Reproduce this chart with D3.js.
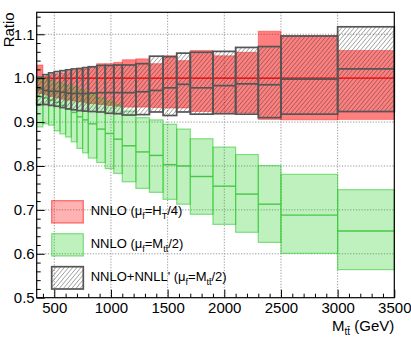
<!DOCTYPE html>
<html>
<head>
<meta charset="utf-8">
<script src="https://cdn.jsdelivr.net/npm/d3@7"></script>
<style>
  body { margin: 0; background: #fff; }
  text { font-family: "Liberation Sans", Arial, sans-serif; fill: #000; }
</style>
</head>
<body>
<div class="chart"></div>
<script>
// bin edges in M_tt (GeV)
var binEdges = [345, 400, 450, 500, 550, 600, 650, 700, 750, 800, 875, 950, 1025, 1100,
  1220, 1340, 1460, 1580, 1700, 1900, 2100, 2300, 2500, 3000, 3500];

// NNLO (mu_f = H_T/4), reference: central = 1
var redLow  = [0.965, 0.962, 0.958, 0.955, 0.952, 0.950, 0.948, 0.946, 0.944, 0.942, 0.940, 0.938,
  0.936, 0.934, 0.934, 0.933, 0.932, 0.932, 0.924, 0.922, 0.921, 0.906, 0.905, 0.906];
var redHigh = [1.030, 1.004, 1.008, 1.010, 1.012, 1.015, 1.018, 1.020, 1.021, 1.025, 1.033, 1.033,
  1.036, 1.042, 1.044, 1.033, 1.051, 1.040, 1.063, 1.051, 1.059, 1.107, 1.097, 1.063];

// NNLO (mu_f = M_tt/2)
var greenCentral = [0.958, 0.955, 0.950, 0.945, 0.938, 0.930, 0.922, 0.912, 0.905, 0.896, 0.884, 0.874,
  0.861, 0.846, 0.832, 0.824, 0.803, 0.800, 0.776, 0.754, 0.736, 0.713, 0.688, 0.652];
var greenLow  = [0.889, 0.896, 0.893, 0.880, 0.873, 0.866, 0.855, 0.840, 0.830, 0.818, 0.808, 0.794,
  0.783, 0.764, 0.749, 0.740, 0.724, 0.713, 0.690, 0.667, 0.649, 0.626, 0.601, 0.564];
var greenHigh = [1.000, 0.998, 0.995, 0.990, 0.987, 0.983, 0.980, 0.975, 0.970, 0.962, 0.955, 0.948,
  0.940, 0.925, 0.910, 0.905, 0.895, 0.884, 0.862, 0.843, 0.826, 0.801, 0.781, 0.746];

// NNLO+NNLL' (mu_f = M_tt/2)
var resumCentral = [0.976, 0.972, 0.970, 0.970, 0.968, 0.966, 0.965, 0.965, 0.965, 0.966, 0.967, 0.967,
  0.967, 0.967, 0.969, 0.972, 0.978, 0.986, 0.978, 0.983, 0.987, 0.985, 0.998, 1.021];
var resumLow  = [0.940, 0.940, 0.938, 0.936, 0.933, 0.930, 0.928, 0.926, 0.925, 0.924, 0.923, 0.920,
  0.919, 0.916, 0.917, 0.923, 0.915, 0.923, 0.918, 0.919, 0.918, 0.910, 0.918, 0.924];
var resumHigh = [1.002, 1.008, 1.012, 1.015, 1.017, 1.019, 1.021, 1.022, 1.024, 1.026, 1.029, 1.029,
  1.030, 1.030, 1.033, 1.050, 1.049, 1.057, 1.059, 1.061, 1.070, 1.072, 1.096, 1.117];

var xTicks = [500, 1000, 1500, 2000, 2500, 3000, 3500];
var yTicks = [0.5, 0.6, 0.7, 0.8, 0.9, 1.0, 1.1];

var legendItems = [
  {key: 'red',   parts: [['NNLO (\u03bc', 0], ['f', 1], ['=H', 0], ['T', 1], ['/4)', 0]]},
  {key: 'green', parts: [['NNLO (\u03bc', 0], ['f', 1], ['=M', 0], ['tt\u0304', 1], ['/2)', 0]]},
  {key: 'hatch', parts: [["NNLO+NNLL'  (\u03bc", 0], ['f', 1], ['=M', 0], ['tt\u0304', 1], ['/2)', 0]]}
];

var W = 411, H = 338;
var margin = {top: 12.3, right: 16.7, bottom: 40.3, left: 36.7},
  width = W - margin.left - margin.right,
  height = H - margin.top - margin.bottom;

var svg = d3.select('.chart').append('svg')
  .attr('width', W)
  .attr('height', H);

var defs = svg.append('defs');
defs.append('pattern')
  .attr('id', 'hatch')
  .attr('patternUnits', 'userSpaceOnUse')
  .attr('width', 3.2)
  .attr('height', 3.2)
  .attr('patternTransform', 'rotate(40)')
  .append('line')
  .attr('x1', 0).attr('y1', 0).attr('x2', 0).attr('y2', 3.2)
  .attr('stroke', '#3a3a3a')
  .attr('stroke-width', 0.9)
  .attr('stroke-opacity', 0.85);

var g = svg.append('g')
  .attr('transform', 'translate(' + margin.left + ',' + margin.top + ')');

var x = d3.scaleLinear().domain([345, 3500]).range([0, width]);
var y = d3.scaleLinear().domain([0.5, 1.15]).range([height, 0]);

var bins = d3.range(binEdges.length - 1).map(function(i) {
  return {
    x0: binEdges[i], x1: binEdges[i + 1],
    rLo: redLow[i], rHi: redHigh[i],
    gC: greenCentral[i], gLo: greenLow[i], gHi: greenHigh[i],
    hC: resumCentral[i], hLo: resumLow[i], hHi: resumHigh[i]
  };
});

// grid
g.append('g').selectAll('line')
  .data(xTicks.filter(function(d) { return d < 3500; }))
  .enter().append('line')
  .attr('x1', function(d) { return x(d); })
  .attr('x2', function(d) { return x(d); })
  .attr('y1', 0).attr('y2', height)
  .attr('stroke', '#8a8a8a').attr('stroke-width', 0.9)
  .attr('stroke-dasharray', '1.2,1.6');
g.append('g').selectAll('line')
  .data(yTicks.filter(function(d) { return d > 0.5; }))
  .enter().append('line')
  .attr('x1', 0).attr('x2', width)
  .attr('y1', function(d) { return y(d); })
  .attr('y2', function(d) { return y(d); })
  .attr('stroke', '#8a8a8a').attr('stroke-width', 0.9)
  .attr('stroke-dasharray', '1.2,1.6');

// red band
g.append('g').selectAll('rect')
  .data(bins).enter().append('rect')
  .attr('x', function(d) { return x(d.x0); })
  .attr('width', function(d) { return x(d.x1) - x(d.x0); })
  .attr('y', function(d) { return y(d.rHi); })
  .attr('height', function(d) { return y(d.rLo) - y(d.rHi); })
  .attr('fill', 'rgba(255,0,0,0.5)')
  .attr('stroke', 'rgba(255,0,0,0.35)')
  .attr('stroke-width', 1);
g.append('g').selectAll('line')
  .data(bins).enter().append('line')
  .attr('x1', function(d) { return x(d.x0); })
  .attr('x2', function(d) { return x(d.x1); })
  .attr('y1', y(1)).attr('y2', y(1))
  .attr('stroke', '#ff0000').attr('stroke-width', 1.3);

// green band
g.append('g').selectAll('rect')
  .data(bins).enter().append('rect')
  .attr('x', function(d) { return x(d.x0); })
  .attr('width', function(d) { return x(d.x1) - x(d.x0); })
  .attr('y', function(d) { return y(d.gHi); })
  .attr('height', function(d) { return y(d.gLo) - y(d.gHi); })
  .attr('fill', 'rgba(0,200,0,0.25)')
  .attr('stroke', 'rgba(40,200,40,0.55)')
  .attr('stroke-width', 1.2);
g.append('g').selectAll('line')
  .data(bins).enter().append('line')
  .attr('x1', function(d) { return x(d.x0); })
  .attr('x2', function(d) { return x(d.x1); })
  .attr('y1', function(d) { return y(d.gC); })
  .attr('y2', function(d) { return y(d.gC); })
  .attr('stroke', '#44c844').attr('stroke-width', 1.4);

// hatched NNLO+NNLL'
g.append('g').selectAll('rect')
  .data(bins).enter().append('rect')
  .attr('x', function(d) { return x(d.x0); })
  .attr('width', function(d) { return x(d.x1) - x(d.x0); })
  .attr('y', function(d) { return y(d.hHi); })
  .attr('height', function(d) { return y(d.hLo) - y(d.hHi); })
  .attr('fill', 'url(#hatch)')
  .attr('stroke', '#555')
  .attr('stroke-width', 1.7);
g.append('g').selectAll('line')
  .data(bins).enter().append('line')
  .attr('x1', function(d) { return x(d.x0); })
  .attr('x2', function(d) { return x(d.x1); })
  .attr('y1', function(d) { return y(d.hC); })
  .attr('y2', function(d) { return y(d.hC); })
  .attr('stroke', '#555').attr('stroke-width', 1.7);

// axes, ROOT style ticks inside the frame
var minorX = d3.range(400, 3500, 100).filter(function(d) { return d % 500 !== 0; });
var minorY = d3.range(0.52, 1.15, 0.02).filter(function(d) { return Math.abs(d * 10 - Math.round(d * 10)) > 0.01; });

var xAxis = g.append('g')
  .attr('transform', 'translate(0,' + height + ')')
  .call(d3.axisBottom(x).tickValues(xTicks).tickSize(-8).tickPadding(5).tickFormat(d3.format('d')));
var xMinor = g.append('g')
  .attr('transform', 'translate(0,' + height + ')')
  .call(d3.axisBottom(x).tickValues(minorX).tickSize(-4).tickFormat(''));
var yAxis = g.append('g')
  .call(d3.axisLeft(y).tickValues(yTicks).tickSize(-8).tickPadding(2).tickFormat(d3.format('.1f')));
var yMinor = g.append('g')
  .call(d3.axisLeft(y).tickValues(minorY).tickSize(-4).tickFormat(''));

[xAxis, xMinor, yAxis, yMinor].forEach(function(a) {
  a.select('.domain').remove();
  a.selectAll('line').attr('stroke', '#000').attr('stroke-width', 1);
  a.selectAll('text').style('font-size', '15px').attr('fill', '#000')
    .style('font-family', '"Liberation Sans", Arial, sans-serif');
});

g.append('rect')
  .attr('width', width).attr('height', height)
  .attr('fill', 'none').attr('stroke', '#000').attr('stroke-width', 1.2);

// axis titles
svg.append('text')
  .attr('transform', 'translate(14,' + margin.top + ') rotate(-90)')
  .attr('text-anchor', 'end')
  .style('font-size', '15px')
  .text('Ratio');

var xt = svg.append('text')
  .attr('x', margin.left + width)
  .attr('y', 331)
  .attr('text-anchor', 'end')
  .style('font-size', '15px');
xt.append('tspan').text('M');
xt.append('tspan').attr('dy', 4).style('font-size', '10px').text('tt\u0304');
xt.append('tspan').attr('dy', -4).text(' (GeV)');

// legend
var legend = svg.append('g').attr('class', 'legend');
legendItems.forEach(function(item, i) {
  var ly = 200.7 + i * 33;
  var box = legend.append('rect')
    .attr('x', 51.7).attr('y', ly)
    .attr('width', 31.6).attr('height', 22.3);
  if (item.key === 'red') {
    box.attr('fill', 'rgba(255,0,0,0.3)').attr('stroke', 'rgba(255,0,0,0.55)').attr('stroke-width', 1.2);
  } else if (item.key === 'green') {
    box.attr('fill', 'rgba(0,200,0,0.25)').attr('stroke', 'rgba(40,200,40,0.55)').attr('stroke-width', 1.2);
  } else {
    box.attr('fill', 'url(#hatch)').attr('stroke', '#555').attr('stroke-width', 1.7);
  }
  var t = legend.append('text')
    .attr('x', 90.7).attr('y', ly + 14)
    .style('font-size', '13px');
  var shift = 0;
  item.parts.forEach(function(p) {
    var dy = p[1] ? 4 - shift : -shift;
    shift = p[1] ? 4 : 0;
    t.append('tspan')
      .attr('dy', dy)
      .style('font-size', p[1] ? '9px' : '13px')
      .text(p[0]);
  });
});
</script>
</body>
</html>
